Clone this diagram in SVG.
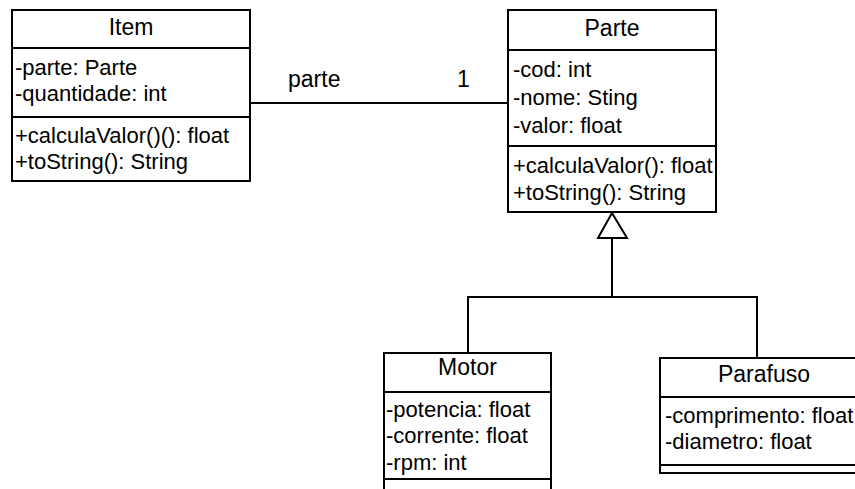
<svg xmlns="http://www.w3.org/2000/svg" width="855" height="489" viewBox="0 0 855 489">
<style>
.box{fill:#fff;stroke:#000;stroke-width:2}
.ln{fill:none;stroke:#000;stroke-width:2}
.t{font-family:"Liberation Sans",Arial,sans-serif;font-size:23px;fill:#000;text-anchor:middle}
.a{font-family:"Liberation Sans",Arial,sans-serif;font-size:22px;fill:#000}
.lbl{font-family:"Liberation Sans",Arial,sans-serif;font-size:23px;fill:#000}
</style>
<rect width="855" height="489" fill="#fff"/>
<g id="connectors">
<line class="ln" x1="250" y1="103" x2="508" y2="103"/>
<text class="lbl" x="288" y="87">parte</text>
<text class="lbl" x="457" y="87">1</text>
<polyline class="ln" points="468,353 468,297 757,297 757,358"/>
<line class="ln" x1="612" y1="297" x2="612" y2="238"/>
<polygon class="ln" fill="#fff" points="612,213 598,238 627,238"/>
</g>
<g id="item">
<rect class="box" x="12" y="10" width="238" height="171"/>
<line class="ln" x1="12" y1="48" x2="250" y2="48"/>
<line class="ln" x1="12" y1="117" x2="250" y2="117"/>
<text class="t" x="131" y="35">Item</text>
<text class="a" x="15" y="75">-parte: Parte</text>
<text class="a" x="15" y="101">-quantidade: int</text>
<text class="a" x="15" y="143">+calculaValor()(): float</text>
<text class="a" x="15" y="169">+toString(): String</text>
</g>
<g id="parte">
<rect class="box" x="508" y="10" width="208" height="202"/>
<line class="ln" x1="508" y1="50" x2="716" y2="50"/>
<line class="ln" x1="508" y1="146" x2="716" y2="146"/>
<text class="t" x="612" y="36">Parte</text>
<text class="a" x="513" y="77">-cod: int</text>
<text class="a" x="513" y="105">-nome: Sting</text>
<text class="a" x="513" y="133">-valor: float</text>
<text class="a" x="513" y="173">+calculaValor(): float</text>
<text class="a" x="513" y="200">+toString(): String</text>
</g>
<g id="motor">
<rect class="box" x="384" y="353" width="167" height="150"/>
<line class="ln" x1="384" y1="392" x2="551" y2="392"/>
<line class="ln" x1="384" y1="479" x2="551" y2="479"/>
<text class="t" x="467.5" y="375">Motor</text>
<text class="a" x="386" y="417">-potencia: float</text>
<text class="a" x="386" y="443">-corrente: float</text>
<text class="a" x="386" y="470">-rpm: int</text>
</g>
<g id="parafuso">
<rect class="box" x="660" y="358" width="210" height="115"/>
<line class="ln" x1="660" y1="397" x2="870" y2="397"/>
<line class="ln" x1="660" y1="465" x2="870" y2="465"/>
<text class="t" x="764" y="382">Parafuso</text>
<text class="a" x="665" y="423">-comprimento: float</text>
<text class="a" x="665" y="449">-diametro: float</text>
</g>
</svg>
